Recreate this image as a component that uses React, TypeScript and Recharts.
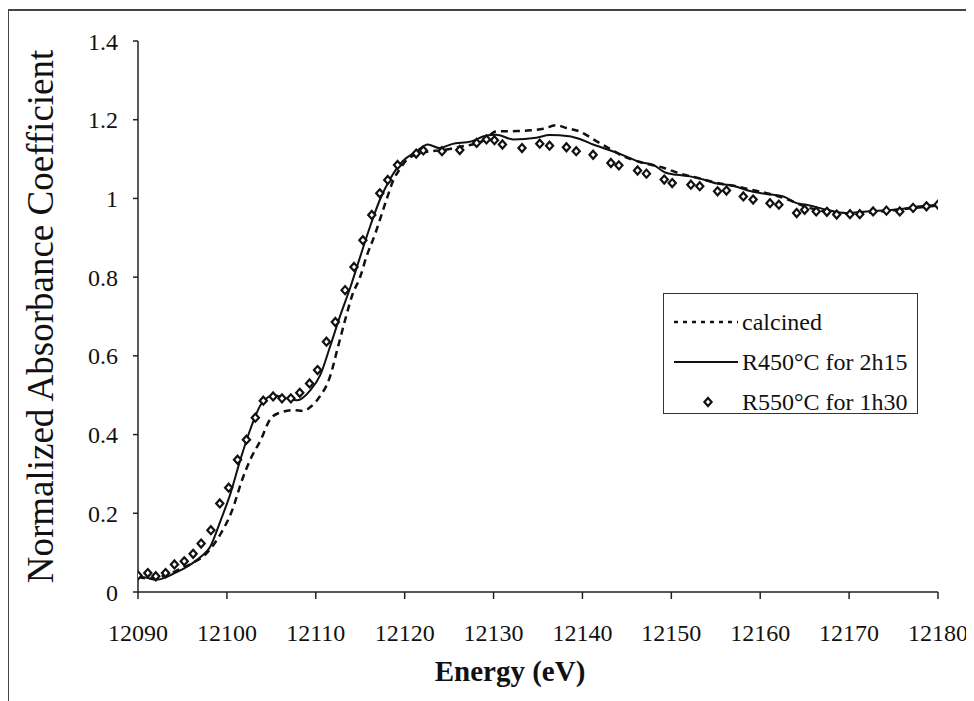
import { ComposedChart, Line, Scatter, XAxis, YAxis, Legend, Label } from 'recharts';

// calcined sample
const calcinedE = [
  12090.0, 12091.4, 12093.0, 12094.5, 12096.0, 12097.7, 12099.3, 12100.6, 12101.7, 12102.6,
  12103.8, 12104.9, 12106.0, 12107.5, 12108.6, 12109.5, 12110.3, 12111.6, 12112.5, 12113.3,
  12114.1, 12115.0, 12115.7, 12116.7, 12117.2, 12118.0, 12118.7, 12119.5, 12120.2, 12122.1,
  12124.3, 12126.2, 12128.8, 12130.3, 12132.2, 12134.1, 12135.6, 12137.1, 12138.2, 12139.7,
  12141.6, 12143.1, 12144.6, 12146.9, 12149.1, 12151.0, 12153.0, 12155.0, 12157.0, 12159.0,
  12161.0, 12163.0, 12165.0, 12167.0, 12169.0, 12171.0, 12173.0, 12175.0, 12177.5, 12180.0,
];
const calcinedMu = [
  0.038, 0.034, 0.042, 0.056, 0.072, 0.098, 0.148, 0.208, 0.284, 0.335,
  0.386, 0.44, 0.456, 0.462, 0.46, 0.472, 0.492, 0.547, 0.623, 0.691,
  0.754, 0.801, 0.852, 0.911, 0.945, 1.0, 1.045, 1.076, 1.097, 1.117,
  1.123, 1.131, 1.146, 1.17, 1.171, 1.173, 1.177, 1.186, 1.179, 1.17,
  1.145, 1.126, 1.107, 1.09, 1.078, 1.063, 1.052, 1.04, 1.032, 1.022,
  1.012, 0.998, 0.98, 0.968, 0.962, 0.962, 0.966, 0.97, 0.976, 0.982,
];

// reduced at 450 C for 2h15
const r450E = [
  12090.0, 12091.0, 12092.0, 12093.0, 12094.0, 12095.2, 12096.3, 12097.2, 12098.1, 12099.3,
  12100.4, 12101.5, 12102.6, 12103.9, 12105.3, 12106.7, 12107.9, 12109.4, 12110.5, 12111.6,
  12112.7, 12113.9, 12115.0, 12116.1, 12117.2, 12118.3, 12119.8, 12121.3, 12122.6, 12123.9,
  12125.3, 12127.5, 12129.2, 12130.3, 12132.2, 12134.8, 12136.3, 12138.5, 12139.7, 12141.2,
  12143.4, 12144.9, 12146.5, 12148.0, 12149.3, 12150.6, 12152.1, 12153.6, 12155.1, 12156.9,
  12158.5, 12160.7, 12162.6, 12164.1, 12165.2, 12167.5, 12169.7, 12172.0, 12175.0, 12178.0,
  12180.0,
];
const r450Mu = [
  0.04, 0.036, 0.031, 0.036, 0.047, 0.06, 0.076, 0.092, 0.114, 0.182,
  0.25, 0.335, 0.411, 0.479, 0.5, 0.492, 0.487, 0.513, 0.551, 0.623,
  0.699, 0.775, 0.852, 0.928, 0.996, 1.047, 1.095, 1.119, 1.137, 1.128,
  1.138, 1.145, 1.16, 1.162, 1.15, 1.154, 1.161, 1.158, 1.151, 1.137,
  1.12, 1.107, 1.092, 1.085, 1.066, 1.06, 1.056, 1.048, 1.038, 1.033,
  1.021, 1.011, 1.005, 0.988, 0.984, 0.971, 0.963, 0.967, 0.971, 0.98,
  0.984,
];

// reduced at 550 C for 1h30 (markers)
const r550E = [
  12090.0, 12091.1, 12092.0, 12093.1, 12094.1, 12095.2, 12096.2, 12097.1, 12098.2, 12099.2,
  12100.2, 12101.2, 12102.2, 12103.2, 12104.1, 12105.2, 12106.2, 12107.2, 12108.2, 12109.3,
  12110.2, 12111.2, 12112.2, 12113.3, 12114.3, 12115.3, 12116.3, 12117.2, 12118.1, 12119.2,
  12121.3, 12122.1, 12124.2, 12126.2, 12128.1, 12129.2, 12130.1, 12131.0, 12133.2, 12135.2,
  12136.3, 12138.2, 12139.3, 12141.2, 12143.2, 12144.1, 12146.2, 12147.2, 12149.2, 12150.1,
  12152.2, 12153.2, 12155.2, 12156.2, 12158.1, 12159.2, 12161.1, 12162.1, 12164.1, 12165.0,
  12166.3, 12167.5, 12168.6, 12170.1, 12171.2, 12172.7, 12174.2, 12175.7, 12177.2, 12178.7,
  12180.0,
];
const r550Mu = [
  0.042, 0.048, 0.04, 0.048, 0.07, 0.078, 0.097, 0.123, 0.157, 0.225,
  0.265, 0.336, 0.387, 0.443, 0.486, 0.497, 0.492, 0.492, 0.506, 0.53,
  0.564, 0.636, 0.686, 0.767, 0.826, 0.894, 0.958, 1.013, 1.047, 1.085,
  1.114, 1.122, 1.12, 1.123, 1.141, 1.15, 1.148, 1.137, 1.128, 1.139,
  1.134, 1.13, 1.12, 1.111, 1.09, 1.084, 1.071, 1.063, 1.048, 1.039,
  1.035, 1.031, 1.018, 1.02, 1.005, 0.997, 0.988, 0.984, 0.963, 0.971,
  0.967, 0.966, 0.959, 0.96, 0.96, 0.967, 0.969, 0.967, 0.976, 0.98,
  0.984,
];

const xTicks = [12090, 12100, 12110, 12120, 12130, 12140, 12150, 12160, 12170, 12180];
const yTicks = [0, 0.2, 0.4, 0.6, 0.8, 1, 1.2, 1.4];

const FONT = "'Liberation Serif', 'Times New Roman', Times, serif";

const zip = (es: number[], ms: number[]) => es.map((e, i) => ({ e, mu: ms[i] }));
const calcined = zip(calcinedE, calcinedMu);
const r450 = zip(r450E, r450Mu);
const r550 = zip(r550E, r550Mu);

const Diamond = (props: any) => {
  const { cx, cy } = props;
  if (cx == null || cy == null) return null;
  return (
    <path
      d={`M${cx},${cy - 4}L${cx + 3.6},${cy}L${cx},${cy + 4}L${cx - 3.6},${cy}Z`}
      fill="#fff"
      stroke="#111"
      strokeWidth={2.2}
    />
  );
};

const legendRows = [
  { label: 'calcined', kind: 'dash' },
  { label: 'R450°C for 2h15', kind: 'line' },
  { label: 'R550°C for 1h30', kind: 'dot' },
];

function LegendBox() {
  return (
    <div
      style={{
        width: 255,
        height: 121,
        boxSizing: 'border-box',
        border: '1.5px solid #333',
        background: '#fff',
        fontFamily: FONT,
        fontSize: 24,
        color: '#111',
        paddingTop: 8,
      }}
    >
      {legendRows.map((r) => (
        <div key={r.label} style={{ display: 'flex', alignItems: 'center', height: 40, lineHeight: '40px' }}>
          <svg width={78} height={20} style={{ flex: 'none' }}>
            {r.kind === 'dash' && (
              <line x1={10} y1={10} x2={74} y2={10} stroke="#111" strokeWidth={2.5} strokeDasharray="4 5" />
            )}
            {r.kind === 'line' && <line x1={10} y1={10} x2={74} y2={10} stroke="#111" strokeWidth={2} />}
            {r.kind === 'dot' && <Diamond cx={44} cy={10} />}
          </svg>
          <span style={{ whiteSpace: 'nowrap', fontFamily: FONT }}>{r.label}</span>
        </div>
      ))}
    </div>
  );
}

export default function App() {
  return (
    <div style={{ position: 'relative', width: 966, height: 693, fontFamily: FONT }}>
      <div
        style={{
          position: 'absolute',
          left: -1,
          top: 1,
          width: 967,
          height: 692,
          borderLeft: '2px solid #444',
          borderTop: '2px solid #444',
        }}
      />
      <ComposedChart
        width={966}
        height={693}
        margin={{ top: 33, right: 36, left: 0, bottom: 0 }}
        style={{ fontFamily: FONT }}
      >
        <XAxis
          type="number"
          dataKey="e"
          domain={[12090, 12180]}
          ticks={xTicks}
          allowDataOverflow
          height={109}
          tickSize={7}
          tickMargin={25}
          stroke="#222"
          strokeWidth={1.5}
          tick={{ fontFamily: FONT, fontSize: 24, fill: '#111' }}
        >
          <Label
            value="Energy (eV)"
            position="insideBottom"
            offset={20}
            dx={-28}
            style={{ fontFamily: FONT, fontSize: 29, fontWeight: 'bold', fill: '#111' }}
          />
        </XAxis>
        <YAxis
          type="number"
          domain={[0, 1.4]}
          ticks={yTicks}
          allowDataOverflow
          width={130}
          tickSize={5}
          tickMargin={15}
          stroke="#222"
          strokeWidth={1.5}
          tick={{ fontFamily: FONT, fontSize: 24, fill: '#111' }}
        >
          <Label
            value="Normalized Absorbance Coefficient"
            angle={-90}
            position="insideLeft"
            offset={32}
            style={{ fontFamily: FONT, fontSize: 37, fill: '#111', textAnchor: 'middle' }}
          />
        </YAxis>
        <Line
          data={calcined}
          dataKey="mu"
          type="monotone"
          stroke="#111"
          strokeWidth={2.5}
          strokeDasharray="7 5"
          dot={false}
          isAnimationActive={false}
        />
        <Line
          data={r450}
          dataKey="mu"
          type="monotone"
          stroke="#111"
          strokeWidth={2}
          dot={false}
          isAnimationActive={false}
        />
        <Scatter data={r550} dataKey="mu" shape={<Diamond />} isAnimationActive={false} />
        <Legend
          layout="vertical"
          align="center"
          verticalAlign="middle"
          content={() => <LegendBox />}
          wrapperStyle={{ left: 655, top: 285, width: 255, height: 121 }}
        />
      </ComposedChart>
    </div>
  );
}
